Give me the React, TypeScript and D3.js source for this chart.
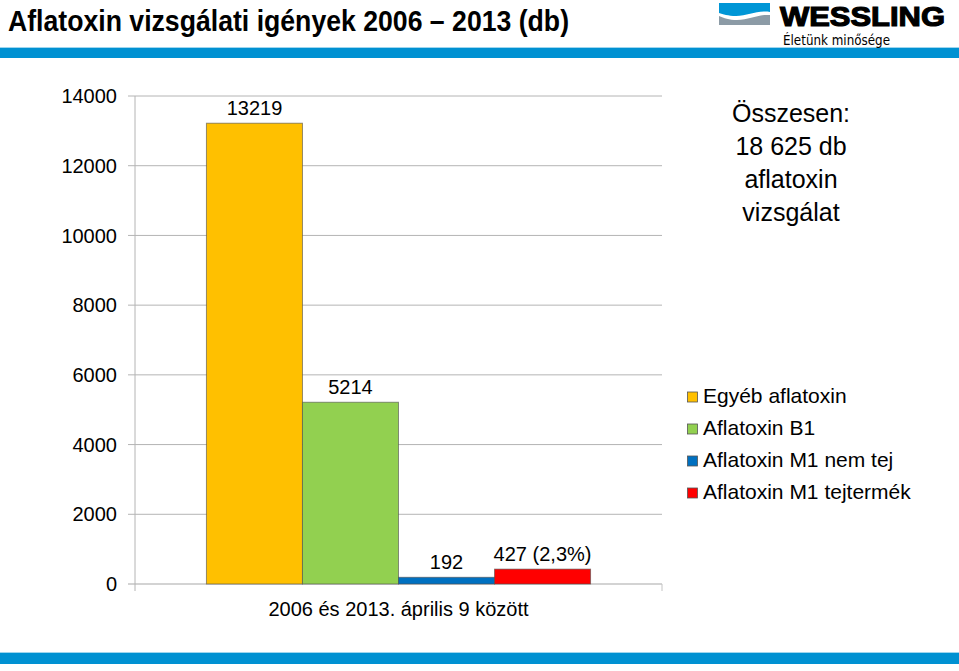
import React from 'react';
import * as d3 from 'd3';

const categories = ['2006 és 2013. április 9 között'];
const seriesNames = ['Egyéb aflatoxin', 'Aflatoxin B1', 'Aflatoxin M1 nem tej', 'Aflatoxin M1 tejtermék'];
const seriesValues = [13219, 5214, 192, 427];
const seriesLabels = ['13219', '5214', '192', '427 (2,3%)'];
const seriesColors = ['#FFC000', '#92D050', '#0070C0', '#FF0000'];
const yTicks = [0, 2000, 4000, 6000, 8000, 10000, 12000, 14000];
const totalLines = ['Összesen:', '18 625 db', 'aflatoxin', 'vizsgálat'];

const font = 'Liberation Sans, Arial, sans-serif';

const App = () => {
  const width = 959;
  const height = 671;
  const plot = { left: 135, right: 662, top: 96, bottom: 584 };

  const y = d3.scaleLinear().domain([0, 14000]).range([plot.bottom, plot.top]);
  const x0 = d3.scaleBand().domain(categories).range([plot.left, plot.right]).paddingInner(0).paddingOuter(0.186);
  const x1 = d3.scaleBand().domain(seriesNames).range([0, x0.bandwidth()]).padding(0);

  const gx = x0(categories[0]);

  return (
    <svg width={width} height={height} style={{ position: 'absolute', left: 0, top: 0, background: '#fff' }}>
      {/* header */}
      <text x={8} y={31} fontFamily="Liberation Sans Narrow, Arial Narrow, Liberation Sans, sans-serif" fontWeight="bold" fontSize={30}
        textLength={561} lengthAdjust="spacingAndGlyphs">
        Aflatoxin vizsgálati igények 2006 – 2013 (db)
      </text>
      <rect x={0} y={47} width={width} height={1} fill="#9fd6ee" />
      <rect x={0} y={48} width={width} height={10} fill="#0091d2" />
      <rect x={0} y={652} width={width} height={1} fill="#9fd6ee" />
      <rect x={0} y={653} width={width} height={11} fill="#0091d2" />

      {/* logo */}
      <g>
        <path d="M719,3 H770 V12 C758,10 748,16 736,16 C728,16 723,14 719,13 Z" fill="#0096d6" />
        <path d="M719,16 C724,18 729,20 737,20 C750,20 758,14 770,15 V25 H719 Z" fill="#8c9ba6" />
        <text x={780} y={26} fontFamily={font} fontWeight="bold" fontSize={28} textLength={165}
          lengthAdjust="spacingAndGlyphs" stroke="#000" strokeWidth={1.2}>WESSLING</text>
        <text x={783} y={45} fontFamily="DejaVu Sans Condensed, DejaVu Sans, sans-serif" fontSize={14}
          textLength={107} lengthAdjust="spacingAndGlyphs">Életünk minősége</text>
      </g>

      {/* grid + y axis */}
      {yTicks.map(t => (
        <g key={t}>
          <line x1={plot.left - 7} x2={plot.right} y1={y(t)} y2={y(t)} stroke={t === 0 ? '#c4c4c4' : '#b4b4b4'} strokeWidth={t === 0 ? 1.5 : 1} />
          <text x={117} y={y(t)} dy="0.36em" textAnchor="end" fontFamily={font} fontSize={20} fill="#000">{t}</text>
        </g>
      ))}
      <line x1={plot.left} x2={plot.left} y1={plot.top} y2={plot.bottom + 7} stroke="#b4b4b4" />
      <line x1={plot.right} x2={plot.right} y1={plot.bottom} y2={plot.bottom + 7} stroke="#c4c4c4" />

      {/* bars */}
      {seriesNames.map((s, i) => {
        const bx = gx + x1(s);
        const by = y(seriesValues[i]);
        return (
          <g key={s}>
            <rect x={bx} y={by} width={x1.bandwidth()} height={y(0) - by} fill={seriesColors[i]}
              stroke="#4d4d4d" strokeOpacity={0.6} strokeWidth={1} />
            <text x={bx + x1.bandwidth() / 2} y={by - 8} textAnchor="middle" fontFamily={font} fontSize={20}>
              {seriesLabels[i]}
            </text>
          </g>
        );
      })}

      {/* x label */}
      <text x={gx + x0.bandwidth() / 2} y={616} textAnchor="middle" fontFamily={font} fontSize={20}>{categories[0]}</text>

      {/* total note */}
      {totalLines.map((l, i) => (
        <text key={l} x={791} y={122 + i * 33} textAnchor="middle" fontFamily={font} fontSize={25}>{l}</text>
      ))}

      {/* legend */}
      {seriesNames.map((s, i) => (
        <g key={s} transform={`translate(687,${403 + i * 32})`}>
          <rect x={0.5} y={-11} width={10} height={10} fill={seriesColors[i]} stroke="#555" strokeWidth={0.8} />
          <text x={16} y={0} fontFamily={font} fontSize={21}>{s}</text>
        </g>
      ))}
    </svg>
  );
};

export default App;
